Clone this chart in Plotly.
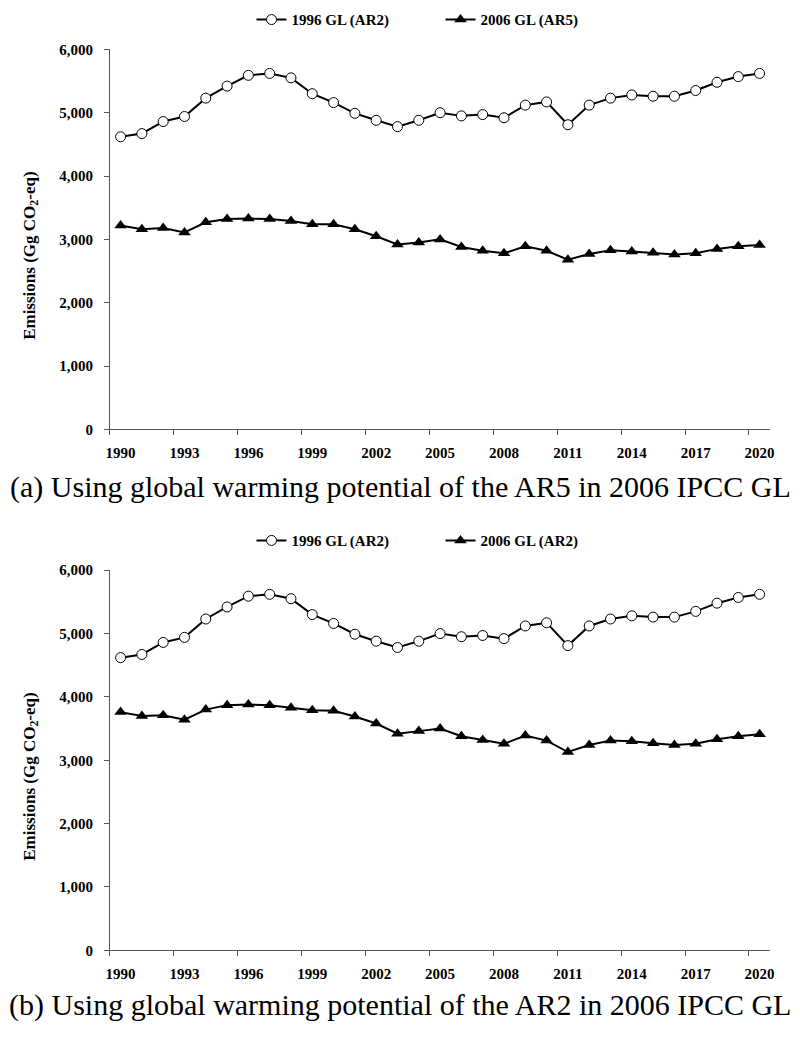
import plotly.graph_objects as go

years = list(range(1990, 2021))
gl1996_ar2 = [4620, 4670, 4860, 4940, 5230, 5420, 5590, 5620, 5550, 5300, 5160,
              4990, 4880, 4780, 4880, 5000, 4950, 4970, 4920, 5120, 5170, 4810,
              5120, 5230, 5280, 5260, 5260, 5350, 5480, 5570, 5620]
gl2006_ar5 = [3220, 3160, 3180, 3110, 3270, 3320, 3330, 3320, 3290, 3240, 3240,
              3160, 3050, 2920, 2950, 3000, 2880, 2820, 2780, 2890, 2820, 2680,
              2770, 2830, 2810, 2790, 2760, 2780, 2850, 2890, 2910]
gl2006_ar2 = [3760, 3700, 3710, 3640, 3800, 3870, 3880, 3870, 3830, 3790, 3780,
              3690, 3580, 3420, 3460, 3500, 3380, 3320, 3260, 3390, 3310, 3130,
              3240, 3310, 3300, 3270, 3240, 3260, 3330, 3380, 3410]
year_ticks = [1990, 1993, 1996, 1999, 2002, 2005, 2008, 2011, 2014, 2017, 2020]
y_ticks = [0, 1000, 2000, 3000, 4000, 5000, 6000]
y_ticktext = ["0", "1,000", "2,000", "3,000", "4,000", "5,000", "6,000"]
captions = ["(a) Using global warming potential of the AR5 in 2006 IPCC GL",
            "(b) Using global warming potential of the AR2 in 2006 IPCC GL"]
series_a = ["1996 GL (AR2)", "2006 GL (AR5)"]
series_b = ["1996 GL (AR2)", "2006 GL (AR2)"]

W, H = 800, 1041
FONT = "Liberation Serif"
AX = "#555555"


def py(p):
    return 1 - p / H


fig = go.Figure()

panels = [
    dict(x="x", y="y", legend="legend", names=series_a, second=gl2006_ar5,
         top=42, bottom=428, leg=12, cap=486),
    dict(x="x2", y="y2", legend="legend2", names=series_b, second=gl2006_ar2,
         top=571, bottom=957, leg=541, cap=1013),
]

for i, p in enumerate(panels):
    fig.add_trace(go.Scatter(
        x=years, y=gl1996_ar2, name=p["names"][0], mode="lines+markers",
        xaxis=p["x"], yaxis=p["y"], legend=p["legend"],
        line=dict(color="black", width=2),
        marker=dict(symbol="circle", size=10, color="white",
                    line=dict(color="black", width=1)),
    ))
    fig.add_trace(go.Scatter(
        x=years, y=p["second"], name=p["names"][1], mode="lines+markers",
        xaxis=p["x"], yaxis=p["y"], legend=p["legend"],
        line=dict(color="black", width=2),
        marker=dict(symbol="triangle-up", size=11, color="black",
                    line=dict(color="black", width=0)),
    ))
    xkey = "xaxis" if i == 0 else "xaxis2"
    ykey = "yaxis" if i == 0 else "yaxis2"
    fig.update_layout(**{
        xkey: dict(
            domain=[107 / W, 774 / W], anchor=p["y"],
            range=[1989.5, 2020.5], tickmode="array", tickvals=year_ticks,
            ticks="", showline=True, linecolor=AX, linewidth=1,
            showgrid=False, zeroline=False, ticklabelstandoff=10,
            tickfont=dict(family=FONT, size=15, color="black", weight="bold"),
            minor=dict(tickmode="array",
                       tickvals=[1989.5 + 3 * k for k in range(11)],
                       ticks="outside", ticklen=5, tickcolor=AX, showgrid=False),
        ),
        ykey: dict(
            domain=[py(p["bottom"]), py(p["top"])], anchor=p["x"],
            range=[0, 6000], tickmode="array", tickvals=y_ticks,
            ticktext=y_ticktext, ticks="outside", ticklen=5, tickcolor=AX,
            showline=True, linecolor=AX, linewidth=1, showgrid=False,
            zeroline=False, ticklabelstandoff=8,
            tickfont=dict(family=FONT, size=15, color="black", weight="bold"),
        ),
    })
    fig.add_annotation(
        text="Emissions (Gg CO<sub>2</sub>-eq)", textangle=-90,
        xref="paper", yref="paper", x=27 / W, y=py((p["top"] + p["bottom"]) / 2 + 17),
        xanchor="center", yanchor="middle", showarrow=False,
        font=dict(family=FONT, size=17, color="black", weight="bold"),
    )
    fig.add_annotation(
        text=captions[i], xref="paper", yref="paper",
        x=0.5, y=py(p["cap"]), xanchor="center", yanchor="middle",
        showarrow=False, font=dict(family=FONT, size=30, color="black"),
    )
    legkey = "legend" if i == 0 else "legend2"
    fig.update_layout(**{legkey: dict(
        orientation="h", x=250 / W, xanchor="left", y=py(p["leg"]),
        yanchor="middle", bgcolor="rgba(0,0,0,0)",
        font=dict(family=FONT, size=15, color="black", weight="bold"),
        itemwidth=30, entrywidth=144, entrywidthmode="pixels",
        tracegroupgap=0,
    )})

fig.update_layout(
    width=W, height=H, margin=dict(l=0, r=0, t=0, b=0),
    paper_bgcolor="white", plot_bgcolor="white", showlegend=True,
)

fig.write_html("out.html", config={"displayModeBar": False},
               post_script="document.body.style.margin='0';"
                           "document.body.style.overflow='hidden';")
